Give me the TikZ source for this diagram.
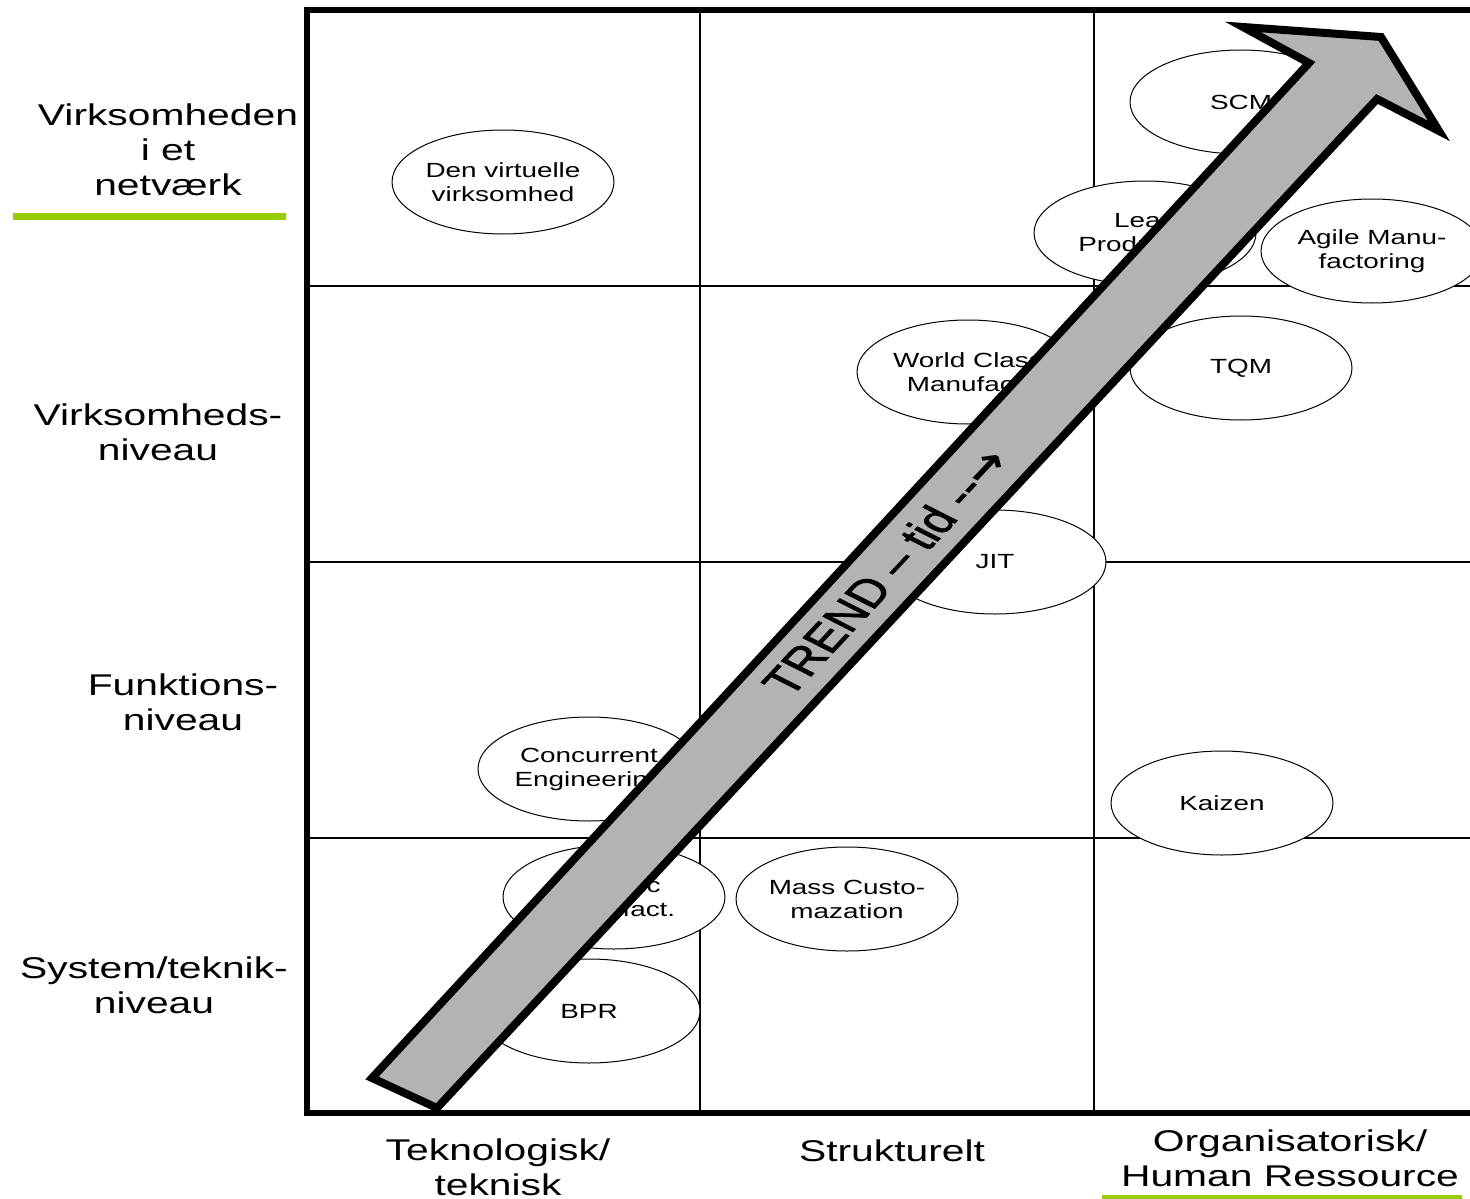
\documentclass[tikz,border=0pt]{standalone}
\usepackage{fontspec}
\setmainfont{Liberation Sans}[FakeStretch=1.36]
\newfontfamily\trendfont{Liberation Sans}[FakeBold=1.6]
\newfontfamily\arrowfont{DejaVu Sans}
\usetikzlibrary{shapes.geometric}
\definecolor{leafgreen}{RGB}{153,204,0}
\definecolor{arrowgray}{RGB}{179,179,179}

\begin{document}
\begin{tikzpicture}[x=1pt,y=-1pt,
  concept/.style={ellipse, draw, line width=1pt, fill=white,
    minimum width=222pt, minimum height=104pt, inner sep=0pt,
    align=center, font=\fontsize{20.5}{24}\selectfont},
  axislabel/.style={align=center, inner sep=0pt,
    font=\fontsize{30}{35}\selectfont},
  gridline/.style={line width=1.3pt},
  frameline/.style={line width=6pt},
  accent/.style={draw=leafgreen, line width=7pt},
  trendarrow/.style={draw, fill=arrowgray, line width=8pt, line join=miter},
  trendlabel/.style={transform shape, xscale=1.36, rotate=55.4, inner sep=0pt,
    font=\trendfont\fontsize{39}{39}\selectfont}
]
\path[use as bounding box] (0,0) rectangle (1470,1199);
\clip (0,0) rectangle (1470,1199);

% matrix grid
\draw[gridline] (307,286) -- (1480,286);
\draw[gridline] (307,562) -- (1480,562);
\draw[gridline] (307,838) -- (1480,838);
\draw[gridline] (700,10) -- (700,1113);
\draw[gridline] (1094,10) -- (1094,1113);
\draw[frameline] (1480,10) -- (307,10) -- (307,1113) -- (1480,1113);

% management concepts
\node[concept] (virtuel) at (503,182) {Den virtuelle\\virksomhed};
\node[concept] (scm)     at (1241,102) {SCM};
\node[concept] (lean)    at (1145,233) {Lean\\Production};
\node[concept] (agile)   at (1372,251) {Agile Manu-\\factoring};
\node[concept] (wcm)     at (968,372) {World Class\\Manufact.};
\node[concept] (tqm)     at (1241,368) {TQM};
\node[concept] (jit)     at (995,562) {JIT};
\node[concept] (ce)      at (589,769) {Concurrent\\Engineering};
\node[concept] (kaizen)  at (1222,803) {Kaizen};
\node[concept] (holonic) at (614,897) {Holonic\\Manufact.};
\node[concept] (mass)    at (847,899) {Mass Custo-\\mazation};
\node[concept] (bpr)     at (589,1011) {BPR};

% trend arrow
\coordinate (aBL) at (372,1078);
\coordinate (aNL) at (1309,63);
\coordinate (aBarbL) at (1243,27);
\coordinate (aTip) at (1381,37);
\coordinate (aBarbR) at (1439,131);
\coordinate (aNR) at (1377,99);
\coordinate (aBR) at (437,1108);
\draw[trendarrow] (aBL) -- (aNL) -- (aBarbL) -- (aTip) -- (aBarbR) -- (aNR) -- (aBR) -- cycle;
\node[trendlabel] (trend) at (886,572) {TREND – tid -{}-{\arrowfont\bfseries →}};

% level labels
\node[axislabel] (lvl4) at (168,150) {Virksomheden\\i et\\netværk};
\node[axislabel] (lvl3) at (158,432) {Virksomheds-\\niveau};
\node[axislabel] (lvl2) at (183,702) {Funktions-\\niveau};
\node[axislabel] (lvl1) at (154,985) {System/teknik-\\niveau};

% category labels
\node[axislabel] (cat1) at (498,1167) {Teknologisk/\\teknisk};
\node[axislabel] (cat2) at (892,1151) {Strukturelt};
\node[axislabel] (cat3) at (1290,1158) {Organisatorisk/\\Human Ressource};

% accent bars
\coordinate (g1a) at (13,216);
\coordinate (g1b) at (286,216);
\coordinate (g2a) at (1102,1198);
\coordinate (g2b) at (1462,1198);
\draw[accent] (g1a) -- (g1b);
\draw[accent] (g2a) -- (g2b);
\end{tikzpicture}
\end{document}
